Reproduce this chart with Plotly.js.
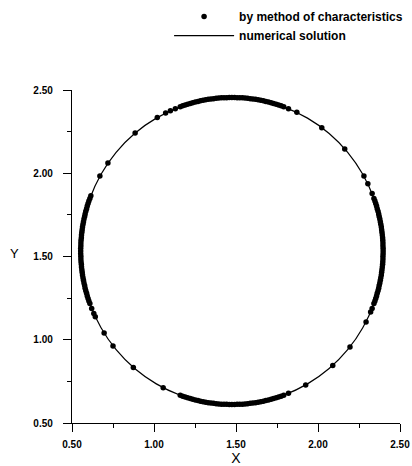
<!DOCTYPE html>
<html>
<head>
<meta charset="utf-8">
<script src="https://cdn.plot.ly/plotly-3.0.1.min.js"></script>
<style>html,body{margin:0;padding:0;background:#fff;}#chart{width:412px;height:466px;}</style>
</head>
<body>
<div id="chart"></div>
<script>
// Numerical solution (closed curve)
const numX = [2.397,2.383,2.341,2.273,2.181,2.068,1.936,1.790,1.635,1.475,1.315,1.160,1.014,0.882,0.769,0.677,0.609,0.567,0.553,0.567,0.609,0.677,0.769,0.882,1.014,1.160,1.315,1.475,1.635,1.790,1.936,2.068,2.181,2.273,2.341,2.383,2.397];
const numY = [1.533,1.693,1.848,1.994,2.126,2.239,2.331,2.399,2.441,2.455,2.441,2.399,2.331,2.239,2.126,1.994,1.848,1.693,1.533,1.373,1.218,1.072,0.940,0.827,0.735,0.667,0.625,0.611,0.625,0.667,0.735,0.827,0.940,1.072,1.218,1.373,1.533];

// Points by method of characteristics
const mocX = [
  2.330,2.341,2.352,2.361,2.370,2.377,2.383,2.388,2.392,2.395,2.396,2.397,2.396,2.395,2.392,2.388,2.383,2.377,2.370,2.361,2.352,2.341,2.330,
  2.347,2.357,2.366,2.373,2.380,2.386,2.390,2.394,2.396,2.397,2.397,2.396,2.394,2.390,2.386,2.380,2.373,2.366,2.357,2.347,
  2.304,2.280,2.163,2.023,1.871,
  1.820,1.791,1.760,1.729,1.698,1.667,1.635,1.603,1.571,1.539,1.507,1.475,1.443,1.411,1.379,1.347,1.315,1.283,1.252,1.221,1.190,1.160,1.130,1.100,1.071,
  1.775,1.745,1.714,1.682,1.651,1.619,1.587,1.555,1.523,1.491,1.459,1.427,1.395,1.363,1.331,1.299,1.268,1.236,1.205,1.175,
  1.020,0.885,0.719,0.670,0.615,
  0.609,0.598,0.589,0.580,0.573,0.567,0.562,0.558,0.555,0.554,0.553,0.554,0.555,0.558,0.562,0.567,0.573,0.580,0.589,0.598,0.609,0.620,0.633,
  0.603,0.593,0.584,0.577,0.570,0.564,0.560,0.557,0.554,0.553,0.553,0.554,0.557,0.560,0.564,0.570,0.577,0.584,0.593,0.603,
  0.642,0.696,0.750,0.874,1.056,
  1.160,1.190,1.221,1.252,1.283,1.315,1.347,1.379,1.411,1.443,1.475,1.507,1.539,1.571,1.603,1.635,1.667,1.698,1.729,1.760,1.791,1.820,
  1.775,1.745,1.714,1.682,1.651,1.619,1.587,1.555,1.523,1.491,1.459,1.427,1.395,1.363,1.331,1.299,1.268,1.236,1.205,1.175,
  1.925,2.090,2.195,2.293,2.321
];
const mocY = [
  1.188,1.218,1.248,1.279,1.310,1.341,1.373,1.405,1.437,1.469,1.501,1.533,1.565,1.597,1.629,1.661,1.693,1.725,1.756,1.787,1.818,1.848,1.878,
  1.233,1.263,1.294,1.326,1.357,1.389,1.421,1.453,1.485,1.517,1.549,1.581,1.613,1.645,1.677,1.709,1.740,1.772,1.803,1.833,
  1.937,1.983,2.146,2.274,2.366,
  2.388,2.399,2.410,2.419,2.428,2.435,2.441,2.446,2.450,2.453,2.454,2.455,2.454,2.453,2.450,2.446,2.441,2.435,2.428,2.419,2.410,2.399,2.388,2.375,2.362,
  2.405,2.415,2.424,2.431,2.438,2.444,2.448,2.452,2.454,2.455,2.455,2.454,2.452,2.448,2.444,2.438,2.431,2.424,2.415,2.405,
  2.335,2.241,2.061,1.983,1.865,
  1.848,1.818,1.787,1.756,1.725,1.693,1.661,1.629,1.597,1.565,1.533,1.501,1.469,1.437,1.405,1.373,1.341,1.310,1.279,1.248,1.218,1.188,1.158,
  1.233,1.263,1.294,1.326,1.357,1.389,1.421,1.453,1.485,1.517,1.549,1.581,1.613,1.645,1.677,1.709,1.740,1.772,1.803,1.833,
  1.138,1.040,0.963,0.834,0.712,
  0.667,0.656,0.647,0.638,0.631,0.625,0.620,0.616,0.613,0.612,0.611,0.612,0.613,0.616,0.620,0.625,0.631,0.638,0.647,0.656,0.667,0.678,
  0.661,0.651,0.642,0.635,0.628,0.622,0.618,0.614,0.612,0.611,0.611,0.612,0.614,0.618,0.622,0.628,0.635,0.642,0.651,0.661,
  0.728,0.846,0.957,1.107,1.167
];

const tickVals = [0.5, 1.0, 1.5, 2.0, 2.5];
const tickText = ["0.50", "1.00", "1.50", "2.00", "2.50"];

const font = "Liberation Sans, Arial, sans-serif";

const traces = [
  {
    x: mocX, y: mocY, type: "scatter", mode: "markers",
    name: "by method of characteristics",
    marker: {color: "#000", size: 5.5}
  },
  {
    x: numX, y: numY, type: "scatter", mode: "lines",
    name: "numerical solution",
    line: {color: "#000", width: 1.2, shape: "spline"}
  }
];

const axisCommon = {
  tickmode: "array", tickvals: tickVals, ticktext: tickText,
  ticks: "outside", ticklen: 8, tickwidth: 1, tickcolor: "#000",
  showline: true, linecolor: "#000", linewidth: 1.2,
  showgrid: false, zeroline: false, automargin: false,
  tickfont: {family: font, size: 10, color: "#000", weight: "bold"},
  minor: {dtick: 0.25, tick0: 0.5, ticks: "outside", ticklen: 4, tickwidth: 1, tickcolor: "#000", showgrid: false},
  fixedrange: true
};

const layout = {
  width: 412, height: 466,
  margin: {l: 72, r: 12, t: 90, b: 43, autoexpand: false},
  paper_bgcolor: "#fff", plot_bgcolor: "#fff",
  font: {family: font, color: "#000"},
  showlegend: true,
  legend: {
    x: 0.296, y: 1.264, xanchor: "left", yanchor: "top",
    bgcolor: "rgba(0,0,0,0)",
    itemwidth: 60,
    font: {family: font, size: 12, color: "#000", weight: "bold"},
    traceorder: "normal"
  },
  xaxis: Object.assign({}, axisCommon, {
    range: [0.5, 2.5],
    ticklabelstandoff: 4,
    title: {text: "X", font: {family: font, size: 14, color: "#000"}, standoff: 6}
  }),
  yaxis: Object.assign({}, axisCommon, {
    range: [0.5, 2.5],
    ticklabelstandoff: 8
  }),
  annotations: [
    {text: "Y", xref: "paper", yref: "y", x: -0.175, y: 1.52, showarrow: false,
     xanchor: "center", yanchor: "middle", font: {family: font, size: 13, color: "#000"}}
  ]
};

Plotly.newPlot("chart", traces, layout, {displayModeBar: false, staticPlot: true});
</script>
</body>
</html>
